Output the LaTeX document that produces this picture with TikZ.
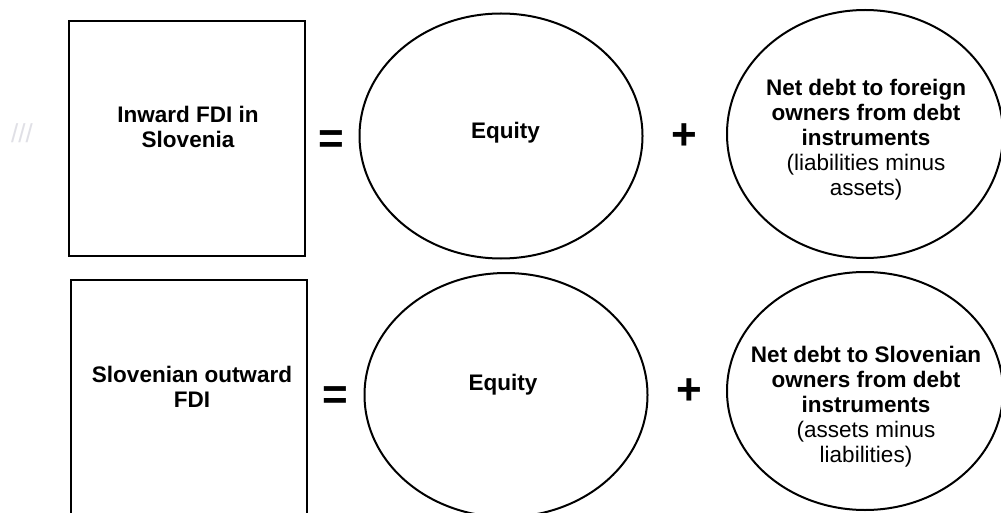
\documentclass[tikz,border=0pt]{standalone}
\usepackage{fontspec}
\setmainfont{Liberation Sans}
\usetikzlibrary{shapes.geometric}
\tikzset{
  framebox/.style={draw=black, line width=2.4pt, minimum width=236pt, minimum height=235pt, inner sep=0pt},
  oval/.style={draw=black, line width=2pt, ellipse, inner sep=0pt},
  lbl/.style={align=center, inner sep=0pt, font=\bfseries\fontsize{22.5}{25}\selectfont},
  sym/.style={inner sep=0pt, anchor=base, font=\bfseries\fontsize{44}{44}\selectfont},
  wm/.style={inner sep=0pt, text=blue!10!gray!22, font=\fontsize{26}{26}\selectfont}
}
\begin{document}
\begin{tikzpicture}[x=1pt,y=-1pt]
\useasboundingbox (0,0) rectangle (1001,513);
\fill[white] (0,0) rectangle (1001,513);
\clip (0,0) rectangle (1001,513);

\node[wm] (mark) at (22,133) {///};

% top row
\node[framebox] (box1) at (187,138.5) {};
\node[lbl] (t1) at (188,127.3) {Inward FDI in\\Slovenia};
\node[sym] (eq1) at (331.5,153.5) {=};
\node[oval, minimum width=283pt, minimum height=245pt] (e1) at (501,136) {};
\node[lbl, anchor=base] (t2) at (505.5,139) {Equity};
\node[sym] (pl1) at (684.5,149.5) {+};
\node[oval, minimum width=276pt, minimum height=248pt] (e2) at (865,134) {};
\node[lbl] (t3) at (866,139.2) {Net debt to foreign\\owners from debt\\instruments\\{\mdseries (liabilities minus}\\{\mdseries assets)}};

% bottom row
\node[framebox] (box2) at (189,397.5) {};
\node[lbl] (t4) at (192,386.8) {Slovenian outward\\FDI};
\node[sym] (eq2) at (335.5,409) {=};
\node[oval, minimum width=283pt, minimum height=244pt] (e3) at (506,395) {};
\node[lbl, anchor=base] (t5) at (503,390) {Equity};
\node[sym] (pl2) at (689.5,404.5) {+};
\node[oval, minimum width=276pt, minimum height=238pt] (e4) at (865,391) {};
\node[lbl] (t6) at (866,407) {Net debt to Slovenian\\owners from debt\\instruments\\{\mdseries (assets minus}\\{\mdseries liabilities)}};
\end{tikzpicture}
\end{document}
